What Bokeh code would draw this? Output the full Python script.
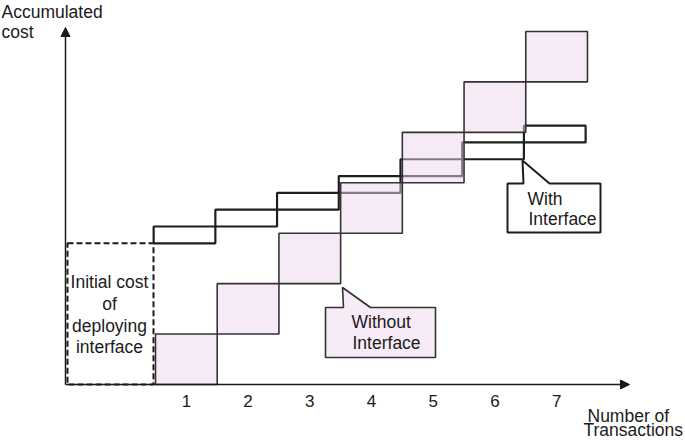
from bokeh.plotting import figure
from bokeh.models import Range1d, Arrow, NormalHead, ColumnDataSource
from bokeh.core.properties import value
from bokeh.embed import file_html
from bokeh.resources import INLINE

# ---------------- data ----------------
transactions = [1, 2, 3, 4, 5, 6, 7]
tick_labels = ["1", "2", "3", "4", "5", "6", "7"]
cost_per_tx_without = 3.0          # cost of one transaction without interface
cost_per_tx_with = 1.0             # cost of one transaction with interface
initial_cost = 8.4                 # initial cost of deploying interface
accum_without = [3, 6, 9, 12, 15, 18, 21]
accum_with = [9.4, 10.4, 11.4, 12.4, 13.4, 14.4, 15.4]

initial_lines = ["Initial cost", "of", "deploying", "interface"]
without_lines = ["Without", "Interface"]
with_lines = ["With", "Interface"]
y_title = ["Accumulated", "cost"]
x_title = ["Number of", "Transactions"]

# ---------------- layout helpers (picture pixel -> data) ----------------
SX = 61.71   # px per transaction
SY = 16.81   # px per cost unit
def X(px):
    return 0.5 + (px - 155.0) / SX
def Y(py):
    return (384.0 - py) / SY

W, H = 685, 440
FONT = value("Liberation Sans")
INK = "#1a1a1a"
DY = -6.5    # text baseline correction

p = figure(width=W, height=H,
           x_range=Range1d(X(0), X(W)), y_range=Range1d(Y(H), Y(0)),
           output_backend="svg", toolbar_location=None,
           x_axis_location=None, y_axis_location=None,
           min_border=0, outline_line_color=None)
p.xgrid.visible = False
p.ygrid.visible = False
p.background_fill_color = "white"
p.border_fill_color = "white"

# axes with arrows
p.add_layout(Arrow(end=NormalHead(size=9, fill_color=INK, line_color=INK, line_width=1),
                   x_start=X(65), y_start=0, x_end=X(629), y_end=0,
                   line_width=1.5, line_color=INK))
p.add_layout(Arrow(end=NormalHead(size=9, fill_color=INK, line_color=INK, line_width=1),
                   x_start=X(65), y_start=0, x_end=X(65), y_end=Y(27),
                   line_width=1.5, line_color=INK))

# initial cost dashed box
p.quad(left=[X(67)], right=[X(153)], bottom=[0], top=[initial_cost],
       fill_color=None, line_color=INK, line_width=2, line_dash="6 3")

# with-interface boxes (black outlines)
off = -0.03
with_src = ColumnDataSource(dict(
    left=[t - 0.5 + off for t in transactions],
    right=[t + 0.5 + off for t in transactions],
    bottom=[a - cost_per_tx_with for a in accum_with],
    top=accum_with))
p.quad(left="left", right="right", bottom="bottom", top="top", source=with_src,
       fill_color=None, line_color="#1e1e1e", line_width=2.2)

# without-interface squares (translucent pink)
wo_src = ColumnDataSource(dict(
    left=[t - 0.5 for t in transactions],
    right=[t + 0.5 for t in transactions],
    bottom=[a - cost_per_tx_without for a in accum_without],
    top=accum_without))
p.quad(left="left", right="right", bottom="bottom", top="top", source=wo_src,
       fill_color="#EFD6EF", fill_alpha=0.5, line_color="#333333", line_width=1.6)

# callout: Without Interface
wx = [X(325), X(343), X(342), X(370), X(435), X(435), X(325)]
wy = [Y(307), Y(307), Y(287), Y(307), Y(307), Y(357), Y(357)]
p.patch(wx, wy, fill_color="#F7EBF7", line_color="#333333", line_width=1.6)

# callout: With Interface
cx = [X(507), X(523), X(522), X(549), X(600), X(600), X(507)]
cy = [Y(183), Y(183), Y(160), Y(183), Y(183), Y(232), Y(232)]
p.patch(cx, cy, fill_color="white", line_color="#1e1e1e", line_width=2)

def txt(xs, ys_px, texts, align="left", size="17.5px"):
    p.text(x=xs, y=[Y(v + DY) for v in ys_px], text=texts, text_font=FONT,
           text_font_size=size, text_align=align, text_baseline="alphabetic",
           text_color=INK)

# tick labels
txt(transactions, [407] * len(transactions), tick_labels, align="center", size="17px")
# axis titles
txt([X(1), X(1)], [17.5, 37.5], y_title)
txt([X(587), X(583)], [422, 436], x_title)
# initial cost text
txt([X(109)] * 4, [288, 310, 331.5, 353], initial_lines, align="center")
# callout texts
txt([X(351), X(352)], [328.3, 349.3], without_lines)
txt([X(527), X(528)], [205, 225], with_lines)

open("out.html", "w").write(file_html(p, INLINE))
